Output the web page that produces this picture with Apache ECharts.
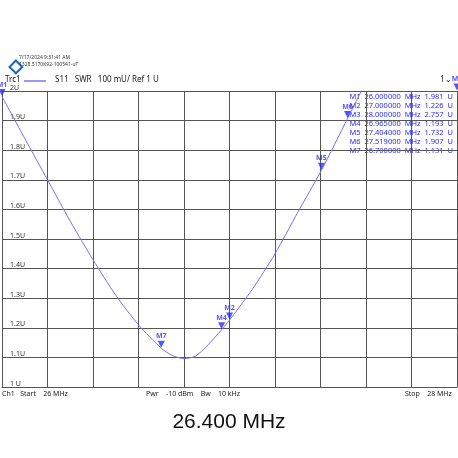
<!DOCTYPE html><html><head><meta charset="utf-8"><script src="https://cdn.jsdelivr.net/npm/echarts@6/dist/echarts.min.js"></script>
<style>html,body{margin:0;background:#fff}#c{width:458px;height:458px}</style></head><body><div id="c"></div><script>
const freqs=[26.0,26.1,26.2,26.3,26.4,26.5,26.6,26.7,26.75,26.8,26.85,26.9,26.965,27.0,27.1,27.2,27.3,27.404,27.519,27.6,27.7,27.8,27.9,28.0];
const swr=[1.981,1.84,1.70,1.56,1.43,1.31,1.21,1.131,1.106,1.096,1.104,1.138,1.193,1.226,1.33,1.45,1.59,1.732,1.907,2.03,2.16,2.34,2.55,2.757];
const markerNames=['M1','M2','M3','M4','M5','M6','M7'];
const markerFreqs=[26.0,27.0,28.0,26.965,27.404,27.519,26.7];
const markerVals=[1.981,1.226,2.757,1.193,1.732,1.907,1.131];
const blue='#2a2aff';
const ch=echarts.init(document.getElementById('c'));
const table=markerNames.map((n,i)=>n+'  '+markerFreqs[i].toFixed(6)+'  MHz  '+markerVals[i].toFixed(3)+'  U').join('\n');
ch.setOption({
 animation:false,
 grid:{left:2,right:1,top:91,bottom:71},
 xAxis:{type:'value',min:26,max:28,interval:0.2,axisLabel:{show:false},axisTick:{show:false},
  axisLine:{show:true,lineStyle:{color:'#555'}},splitLine:{lineStyle:{color:'#555',width:1}}},
 yAxis:{type:'value',min:1,max:2,interval:0.1,
  axisLabel:{inside:true,fontSize:7,color:'#333',fontFamily:'Noto Sans',formatter:v=>(Math.abs(v-1)<1e-9?'1 U':Math.abs(v-2)<1e-9?'2U':v.toFixed(1)+'U'),verticalAlign:'bottom'},
  axisTick:{show:false},axisLine:{show:true,lineStyle:{color:'#555'}},splitLine:{lineStyle:{color:'#555',width:1}}},
 series:[
  {type:'line',data:freqs.map((f,i)=>[f,swr[i]]),smooth:0.25,showSymbol:false,lineStyle:{color:'#7070ff',width:1},clip:true},
  {type:'scatter',symbol:'triangle',symbolRotate:180,symbolSize:7,symbolOffset:[0,-4],itemStyle:{color:blue},clip:false,z:5,
   data:markerNames.map((n,i)=>({value:[markerFreqs[i],Math.min(markerVals[i],2)],name:n})),
   label:{show:true,position:'top',distance:1,formatter:p=>p.name,color:blue,fontSize:7,fontWeight:'bold',fontFamily:'Noto Sans'}}
 ],
 graphic:[
  {type:'group',left:6,top:57,children:[
   {type:'rect',rotation:Math.PI/4,shape:{x:0,y:0,width:9,height:9},style:{fill:'none',stroke:'#1a64c8',lineWidth:2},x:7,y:0}]},
  {type:'text',left:19,top:54,style:{text:'7/17/2024 9:31:41 AM\n1328.5170K92-100541-uT',fontSize:5,lineHeight:7,fill:'#333',fontFamily:'Noto Sans'}},
  {type:'text',left:5,top:76,style:{text:'Trc1',fontSize:8,fill:'#222',fontFamily:'Noto Sans'}},
  {type:'line',shape:{x1:24,y1:81,x2:46,y2:81},style:{stroke:'#3030ff',lineWidth:1}},
  {type:'text',left:55,top:76,style:{text:'S11   SWR   100 mU/ Ref 1 U',fontSize:8,fill:'#222',fontFamily:'Noto Sans'}},
  {type:'text',left:440,top:76,style:{text:'1⌄',fontSize:8,fill:'#222',fontFamily:'Noto Sans'}},
  {type:'text',right:5,top:92,style:{text:table,fontSize:7.5,lineHeight:9,fill:blue,fontFamily:'Noto Sans',align:'right'}},
  {type:'text',left:2,top:390,style:{text:'Ch1   Start    26 MHz',fontSize:7,fill:'#222',fontFamily:'Noto Sans'}},
  {type:'text',left:146,top:390,style:{text:'Pwr    -10 dBm    Bw    10 kHz',fontSize:7,fill:'#222',fontFamily:'Noto Sans'}},
  {type:'text',left:405,top:390,style:{text:'Stop    28 MHz',fontSize:7,fill:'#222',fontFamily:'Noto Sans'}},
  {type:'text',left:'center',top:412,style:{text:'26.400 MHz',fontSize:21,fill:'#111',fontFamily:'Liberation Sans'}}
 ]
});
</script></body></html>
